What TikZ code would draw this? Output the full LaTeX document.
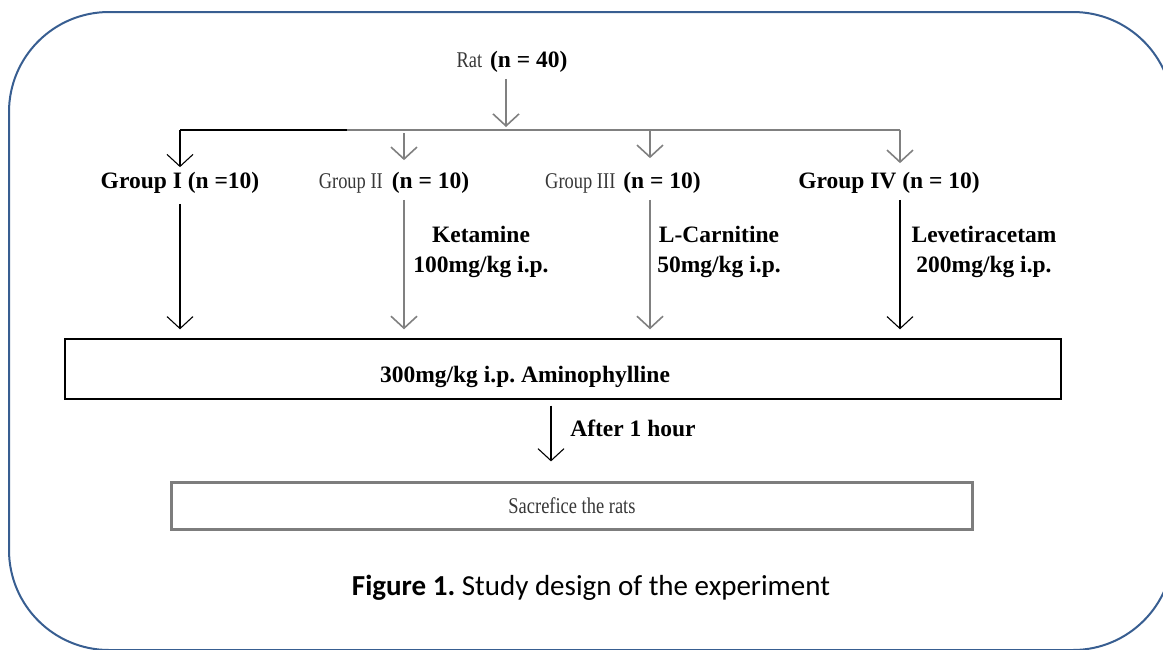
\documentclass[tikz,border=0pt]{standalone}
\usepackage{fontspec}
\usepackage{graphicx}
\setmainfont{Liberation Serif}
\newfontfamily\capfont{Carlito}
\usetikzlibrary{arrows.meta,shadows}
\frenchspacing

\definecolor{frameblue}{RGB}{56,94,145}
\definecolor{linegray}{RGB}{128,128,128}
\definecolor{boxgray}{RGB}{125,125,125}
\definecolor{txtgray}{RGB}{55,55,55}
\newcommand{\boldtxt}{\fontsize{23.5}{30}\selectfont\bfseries\color{black}}
\newcommand{\plainpart}[1]{{\fontsize{22.5}{28}\selectfont\mdseries\color{txtgray}\scalebox{0.82}[1]{#1}}}

\begin{document}
\begin{tikzpicture}[x=1pt,y=-1pt]
\tikzstyle{every node}+=[inner sep=0pt]
\tikzstyle{gline}=[draw=linegray, line width=1.6pt]
\tikzstyle{bline}=[draw=black, line width=1.1pt]
\tikzstyle{tip}=[-{Straight Barb[length=12pt,width=26pt]}]
\useasboundingbox (0,0) rectangle (1163,649);
\clip (0,0) rectangle (1163,649);
\draw [frameblue, line width=2pt, rounded corners=100pt] (9,12) rectangle (1173,650);
% top
\node (rat) at (512,62) {\plainpart{Rat}\hspace{8pt}\boldtxt(n = 40)};
\coordinate (split) at (506,130);
\coordinate (b1) at (180,130);
\coordinate (bmid) at (347,130);
\coordinate (b2) at (404,130);
\coordinate (b3) at (650,130);
\coordinate (b4) at (900,130);
\draw [gline, tip, shorten <=6pt, shorten >=3pt] (rat.south -| split) -- (split);
\draw [bline] (b1) -- (bmid);
\draw [gline] (bmid) -- (b4);
% groups
\node (g1) at (180,183) {\boldtxt Group I (n =10)};
\node (g2) at (394,183) {\plainpart{Group II}\hspace{9pt}\boldtxt(n = 10)};
\node (g3) at (623,183) {\plainpart{Group III}\hspace{8pt}\boldtxt(n = 10)};
\node (g4) at (889,183) {\boldtxt Group IV (n = 10)};
\draw [bline, tip, shorten >=5pt] (b1) -- (b1 |- g1.north);
\draw [gline, tip, shorten <=3pt, shorten >=12pt] (b2) -- (b2 |- g2.north);
\draw [gline, tip, shorten >=14pt] (b3) -- (b3 |- g3.north);
\draw [gline, tip, shorten >=9pt] (b4) -- (b4 |- g4.north);
% drugs
\node [font=\boldtxt, align=center] (d2) at (481,252) {Ketamine\\100mg/kg i.p.};
\node [font=\boldtxt, align=center] (d3) at (719,252) {L-Carnitine\\50mg/kg i.p.};
\node [font=\boldtxt, align=center] (d4) at (984,252) {Levetiracetam\\200mg/kg i.p.};
% boxes
\node [draw, line width=1.4pt, minimum width=996pt, minimum height=60pt] (amino) at (563,369) {};
\node (aminolbl) at (525,377) {\boldtxt 300mg/kg i.p. Aminophylline};
\node [draw=boxgray, line width=2.2pt, fill=white, minimum width=801pt, minimum height=47pt,
  drop shadow={shadow xshift=1pt, shadow yshift=-1.5pt, opacity=0.3}] (sac) at (572,506) {\plainpart{Sacrefice the rats}};
\draw [bline, tip, shorten <=10pt, shorten >=9pt] (g1) -- (b1 |- amino.north);
\draw [gline, tip, shorten <=6pt, shorten >=9pt] (g2.south -| b2) -- (b2 |- amino.north);
\draw [gline, tip, shorten <=6pt, shorten >=9pt] (g3.south -| b3) -- (b3 |- amino.north);
\draw [bline, tip, shorten <=6pt, shorten >=9pt] (g4.south -| b4) -- (b4 |- amino.north);
\coordinate (hour) at (551,430);
\draw [bline, tip, shorten <=6pt, shorten >=20pt] (amino.south -| hour) -- (sac.north -| hour);
\node (hourlbl) at (633,428) {\boldtxt After 1 hour};
% caption
\node (caption) at (591,588) {\capfont\fontsize{29}{32}\selectfont\textbf{Figure 1.} Study design of the experiment};
\end{tikzpicture}
\end{document}
